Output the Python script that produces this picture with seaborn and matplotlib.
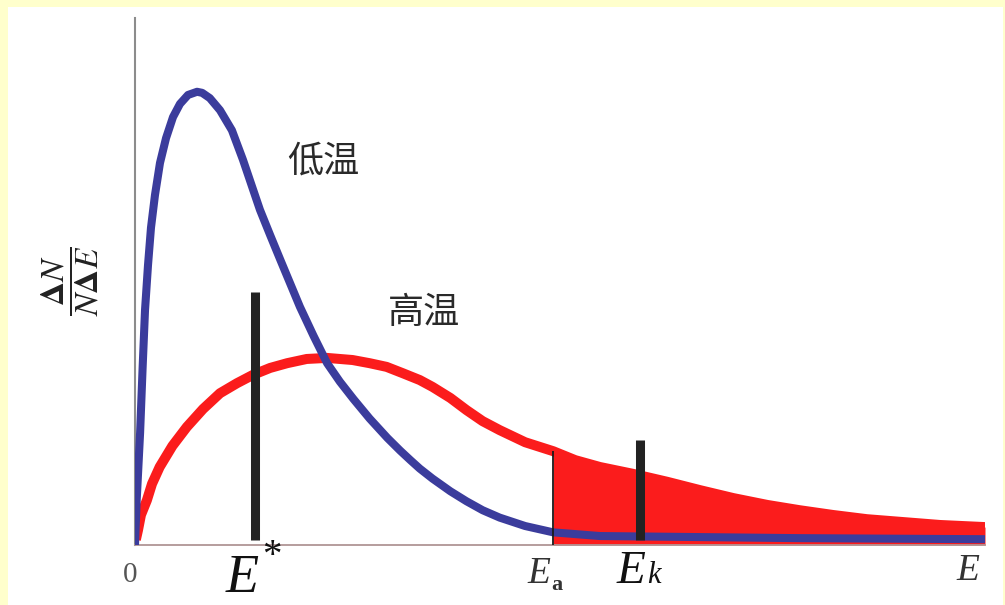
import numpy as np
import pandas as pd
import matplotlib
matplotlib.use("Agg")
import matplotlib.pyplot as plt
from matplotlib.patches import Rectangle
import seaborn as sns

# ---- data (x in energy units 0..10, y in arbitrary units 0..10)
low_x = [0.0, 0.02, 0.06, 0.09, 0.118, 0.153, 0.188, 0.235, 0.294, 0.365, 0.447, 0.529,
         0.624, 0.73, 0.79, 0.88, 1.0, 1.14, 1.27, 1.47, 1.59, 1.71, 1.94, 2.10, 2.26, 2.41,
         2.57, 2.76, 2.97, 3.12, 3.24, 3.35, 3.5, 3.71, 3.9, 4.09, 4.29, 4.59, 4.92, 5.47,
         6.65, 7.82, 10.0]
low_y = [0.0, 0.85, 2.13, 3.38, 4.46, 5.31, 6.02, 6.64, 7.25, 7.72, 8.12, 8.37,
         8.54, 8.6, 8.58, 8.48, 8.25, 7.87, 7.31, 6.36, 5.88, 5.41, 4.52, 3.97, 3.45, 3.10,
         2.77, 2.40, 2.03, 1.79, 1.61, 1.45, 1.26, 1.02, 0.83, 0.66, 0.52, 0.36, 0.24, 0.17,
         0.15, 0.13, 0.11]

high_x = [0.01, 0.035, 0.07, 0.14, 0.2, 0.29, 0.44, 0.61, 0.8, 1.0, 1.2, 1.39, 1.59, 1.79,
          2.02, 2.26, 2.56, 2.76, 2.96, 3.15, 3.35, 3.5, 3.71, 3.9, 4.09, 4.29, 4.59, 4.92,
          5.18, 5.47, 5.86, 6.26, 6.65, 7.04, 7.44, 7.82, 8.21, 8.61, 9.0, 9.47, 10.0]
high_y = [0.1, 0.28, 0.57, 0.85, 1.16, 1.48, 1.88, 2.24, 2.58, 2.88, 3.07, 3.23, 3.36, 3.45,
          3.53, 3.55, 3.51, 3.45, 3.38, 3.26, 3.13, 3.0, 2.79, 2.56, 2.35, 2.18, 1.95, 1.78,
          1.61, 1.48, 1.35, 1.2, 1.04, 0.89, 0.76, 0.66, 0.57, 0.49, 0.44, 0.38, 0.34]

E_a = 4.92
E_star = 1.41
E_k = 5.94
bar_tops = [4.8, 1.99]
bar_bottom = 0.09

curve_labels = ["低温", "高温"]

# ---- figure
sns.set_theme(style="white")
plt.rcParams["font.family"] = ["Noto Sans CJK SC", "DejaVu Sans"]
plt.rcParams["mathtext.fontset"] = "stix"

fig = plt.figure(figsize=(10.05, 6.05), dpi=100, facecolor="#FFFFCC")
fig.add_artist(Rectangle((8 / 1005, 0), 995 / 1005, 598 / 605, transform=fig.transFigure,
                         facecolor="white", edgecolor="none", zorder=0))

ax = fig.add_axes([135 / 1005, 60 / 605, 850 / 1005, 527 / 605])
ax.set_facecolor("none")

df_low = pd.DataFrame({"E": low_x, "f": low_y})
df_high = pd.DataFrame({"E": high_x, "f": high_y})

RED = "#fb1c1c"
BLUE = "#3b3c9c"

sns.lineplot(data=df_high, x="E", y="f", ax=ax, color=RED, lw=7.2, sort=False,
             estimator=None, solid_capstyle="butt", solid_joinstyle="round", zorder=2)
hx = np.array(high_x)
hy = np.array(high_y)
mask = hx >= E_a
ax.fill_between(hx[mask], 0, hy[mask], color=RED, lw=0, zorder=2)
sns.lineplot(data=df_low, x="E", y="f", ax=ax, color=BLUE, lw=5.8, sort=False,
             estimator=None, solid_capstyle="butt", solid_joinstyle="round", zorder=3)

ax.vlines(E_a, 0, hy[mask][0], color="#1a1a1a", lw=1.3, zorder=4)
ax.vlines([E_star, E_k], bar_bottom, bar_tops, color="#222222", lw=6.5, zorder=5)

ax.set_xlim(0, 10)
ax.set_ylim(0, 10)
ax.set_xticks([])
ax.set_yticks([])
ax.set_xlabel("")
ax.set_ylabel("")
for s in ["top", "right"]:
    ax.spines[s].set_visible(False)
ax.spines["left"].set_color("#8c8c8c")
ax.spines["left"].set_linewidth(1.5)
ax.spines["bottom"].set_color("#b09595")
ax.spines["bottom"].set_linewidth(1.3)

# curve labels
ax.text(2.21, 7.27, curve_labels[0], fontsize=26, color="#2a2a2a", ha="center", va="center")
ax.text(3.40, 4.40, curve_labels[1], fontsize=26, color="#2a2a2a", ha="center", va="center")

# axis annotations
serif = ["Liberation Serif", "DejaVu Serif"]
ax.text(-0.06, -0.57, "0", fontsize=21, family=serif, color="#555555", ha="center",
        va="center", clip_on=False)
ax.text(1.26, -0.90, "E", fontsize=39, family=serif, style="italic", color="#111111",
        ha="center", va="baseline", clip_on=False)
ax.text(1.61, -0.21, "*", fontsize=28, family=serif, color="#111111", ha="center",
        va="center", clip_on=False)
ax.text(4.75, -0.72, "E", fontsize=27, family=serif, style="italic", color="#333333",
        ha="center", va="baseline", clip_on=False)
ax.text(4.90, -0.85, "a", fontsize=16, family=serif, weight="bold", color="#333333",
        ha="left", va="baseline", clip_on=False)
ax.text(5.83, -0.72, "E", fontsize=34, family=serif, style="italic", color="#111111",
        ha="center", va="baseline", clip_on=False)
ax.text(6.02, -0.72, "k", fontsize=22, family=serif, style="italic", color="#111111",
        ha="left", va="baseline", clip_on=False)
ax.text(9.80, -0.67, "E", fontsize=27, family=serif, style="italic", color="#333333",
        ha="center", va="baseline", clip_on=False)

fig.text(70 / 1005, 1 - 281 / 605, r"$\dfrac{\mathbf{\Delta}N}{N\mathbf{\Delta}E}$",
         fontsize=24, rotation=90, ha="center", va="center", color="#222222")

fig.savefig("out.png", dpi=100, facecolor=fig.get_facecolor())
